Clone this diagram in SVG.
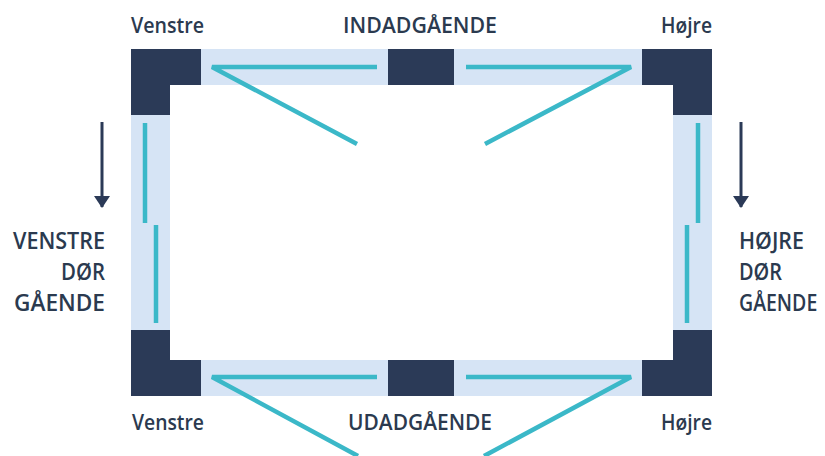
<svg xmlns="http://www.w3.org/2000/svg" width="825" height="456" viewBox="0 0 825 456">
  <defs>
    <style>
      .dark{fill:#2b3a57}
      .band{fill:#d6e4f5}
      .teal{stroke:#3bb8c8;stroke-width:4.5;fill:none;stroke-linecap:butt}
      .lbl{font-family:"Open Sans","Liberation Sans",sans-serif;font-weight:600;font-size:21px;fill:#2b3a4f}
      .big{font-family:"Open Sans","Liberation Sans",sans-serif;font-weight:600;font-size:23px;fill:#2b3a4f}
      .arr{stroke:#2b3a57;stroke-width:3;fill:none}
    </style>
    <marker id="ah" viewBox="0 0 12 16" refX="11" refY="8" markerWidth="12" markerHeight="16" markerUnits="userSpaceOnUse" orient="auto">
      <path d="M0,0 L12,8 L0,16 Z" fill="#2b3a57"/>
    </marker>
  </defs>
  <rect width="825" height="456" fill="#ffffff"/>

  <g id="frame">
    <rect class="band" x="201" y="49" width="187" height="36"/>
    <rect class="band" x="454" y="49" width="188" height="36"/>
    <rect class="band" x="201" y="360" width="187" height="36"/>
    <rect class="band" x="454" y="360" width="188" height="36"/>
    <rect class="band" x="131" y="115" width="39" height="215"/>
    <rect class="band" x="673" y="115" width="39" height="215"/>
  </g>

  <g id="corner-top-left"><path class="dark" d="M131,49 H201 V85 H170 V115 H131 Z"/></g>
  <g id="corner-top-right"><path class="dark" d="M642,49 H712 V115 H673 V85 H642 Z"/></g>
  <g id="corner-bottom-left"><path class="dark" d="M131,330 H170 V360 H201 V396 H131 Z"/></g>
  <g id="corner-bottom-right"><path class="dark" d="M673,330 H712 V396 H642 V360 H673 Z"/></g>
  <g id="mid-top"><rect class="dark" x="388" y="49" width="66" height="36"/></g>
  <g id="mid-bottom"><rect class="dark" x="388" y="360" width="66" height="36"/></g>

  <g id="doors">
    <path class="teal" d="M377,67 H212 L357,144"/>
    <path class="teal" d="M466,67 H631 L485,144"/>
    <path class="teal" d="M377,377 H212 L358,456"/>
    <path class="teal" d="M466,377 H631 L484,456"/>
    <path class="teal" d="M145,123 V223"/>
    <path class="teal" d="M156,225 V323"/>
    <path class="teal" d="M698,123 V223"/>
    <path class="teal" d="M687,225 V323"/>
  </g>

  <g id="connectors">
    <path class="arr" d="M102,122 V207" marker-end="url(#ah)"/>
    <path class="arr" d="M741,122 V207" marker-end="url(#ah)"/>
  </g>

  <g id="labels">
    <text class="lbl" x="131" y="33" textLength="73" lengthAdjust="spacingAndGlyphs">Venstre</text>
    <text class="lbl" x="343" y="33" textLength="154" lengthAdjust="spacingAndGlyphs">INDADGÅENDE</text>
    <text class="lbl" x="661" y="33" textLength="51" lengthAdjust="spacingAndGlyphs">Højre</text>
    <text class="lbl" x="132" y="430" textLength="72" lengthAdjust="spacingAndGlyphs">Venstre</text>
    <text class="lbl" x="348" y="430" textLength="144" lengthAdjust="spacingAndGlyphs">UDADGÅENDE</text>
    <text class="lbl" x="661" y="430" textLength="51" lengthAdjust="spacingAndGlyphs">Højre</text>

    <text class="big" x="13" y="249" textLength="92" lengthAdjust="spacingAndGlyphs">VENSTRE</text>
    <text class="big" x="61" y="280" textLength="44" lengthAdjust="spacingAndGlyphs">DØR</text>
    <text class="big" x="14" y="311" textLength="91" lengthAdjust="spacingAndGlyphs">GÅENDE</text>
    <text class="big" x="739" y="249" textLength="65" lengthAdjust="spacingAndGlyphs">HØJRE</text>
    <text class="big" x="739" y="280" textLength="43" lengthAdjust="spacingAndGlyphs">DØR</text>
    <text class="big" transform="translate(739,311) scale(0.86,1)" x="0" y="0" textLength="91" lengthAdjust="spacingAndGlyphs">GÅENDE</text>
  </g>
</svg>
